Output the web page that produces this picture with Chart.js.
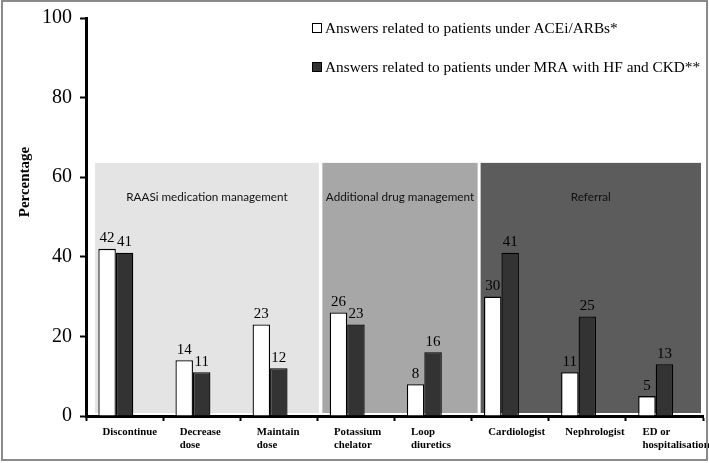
<!DOCTYPE html>
<html>
<head>
<meta charset="utf-8">
<script src="https://cdn.jsdelivr.net/npm/chart.js@4.4.1/dist/chart.umd.min.js"></script>
<style>
  html, body { margin: 0; padding: 0; background: #ffffff; }
  #wrap { position: relative; width: 709px; height: 463px; }
</style>
</head>
<body>
<div id="wrap"><canvas id="c" width="709" height="463"></canvas></div>
<script>
// ---- data ----
const categories = [
  'Discontinue',
  ['Decrease', 'dose'],
  ['Maintain', 'dose'],
  ['Potassium', 'chelator'],
  ['Loop', 'diuretics'],
  'Cardiologist',
  'Nephrologist',
  ['ED or', 'hospitalisation']
];
const seriesNames = [
  'Answers related to patients under ACEi/ARBs*',
  'Answers related to patients under MRA with HF and CKD**'
];
const aceiArbValues = [42, 14, 23, 26, 8, 30, 11, 5];
const mraValues = [41, 11, 12, 23, 16, 41, 25, 13];
const groupLabels = ['RAASi medication management', 'Additional drug management', 'Referral'];
const groupFirstIndex = [0, 3, 5];
const groupLastIndex = [2, 4, 7];
const yTicks = [0, 20, 40, 60, 80, 100];

// ---- styles ----
const SERIF = '"Liberation Serif", "Times New Roman", serif';
const SANS = 'Lato, "Noto Sans", sans-serif';
const groupFills = ['#e4e4e4', '#a7a7a7', '#5c5c5c'];
const groupInsetL = [9, 5, 9];
const groupInsetR = [1.5, 6, -2];
const GROUP_TOP_VALUE = 63.6;
const GROUP_BOTTOM_GAP = 3;

const groupsPlugin = {
  id: 'groups',
  beforeDatasetsDraw(chart) {
    const ctx = chart.ctx, x = chart.scales.x, y = chart.scales.y;
    const half = (x.getPixelForValue(1) - x.getPixelForValue(0)) / 2;
    const top = y.getPixelForValue(GROUP_TOP_VALUE);
    const bottom = y.getPixelForValue(0) - GROUP_BOTTOM_GAP;
    ctx.save();
    groupLabels.forEach((lab, g) => {
      const l = x.getPixelForValue(groupFirstIndex[g]) - half + groupInsetL[g];
      const r = x.getPixelForValue(groupLastIndex[g]) + half + groupInsetR[g];
      ctx.fillStyle = groupFills[g];
      ctx.fillRect(l, top, r - l, bottom - top);
      ctx.fillStyle = '#111';
      ctx.font = '11.7px ' + SANS;
      ctx.textAlign = 'center';
      ctx.textBaseline = 'middle';
      ctx.fillText(lab, (l + r) / 2, top + 34);
    });
    ctx.restore();
  }
};

const valueLabelsPlugin = {
  id: 'valueLabels',
  afterDatasetsDraw(chart) {
    const ctx = chart.ctx;
    ctx.save();
    ctx.font = '15px ' + SERIF;
    ctx.fillStyle = '#000';
    ctx.textAlign = 'center';
    ctx.textBaseline = 'bottom';
    [0, 1].forEach(di => {
      const meta = chart.getDatasetMeta(di);
      meta.data.forEach((bar, i) => {
        const v = chart.data.datasets[di].data[i];
        ctx.fillText(String(v), bar.x, bar.y - 3);
      });
    });
    ctx.restore();
  }
};

const legendPlugin = {
  id: 'customLegend',
  afterDraw(chart) {
    const ctx = chart.ctx;
    ctx.save();
    const rows = [28, 67];
    ctx.font = '15.3px ' + SERIF;
    ctx.textBaseline = 'middle';
    ctx.textAlign = 'left';
    [0, 1].forEach(di => {
      const ds = chart.data.datasets[di];
      const yc = rows[di];
      ctx.fillStyle = ds.backgroundColor;
      ctx.fillRect(312.5, yc - 4.5, 9, 9);
      ctx.strokeStyle = '#000';
      ctx.lineWidth = 1;
      ctx.strokeRect(312.5, yc - 4.5, 9, 9);
      ctx.fillStyle = '#000';
      ctx.fillText(ds.label, 325, yc + 1);
    });
    // y axis title
    ctx.save();
    ctx.translate(25, 182);
    ctx.rotate(-Math.PI / 2);
    ctx.font = 'bold 15px ' + SERIF;
    ctx.textAlign = 'center';
    ctx.textBaseline = 'middle';
    ctx.fillText('Percentage', 0, 0);
    ctx.restore();
    // outer frame
    ctx.strokeStyle = '#8a8a8a';
    ctx.lineWidth = 2;
    ctx.strokeRect(2, 1, 705, 459);
    ctx.restore();
  }
};

new Chart(document.getElementById('c'), {
  type: 'bar',
  data: {
    labels: categories,
    datasets: [
      { label: seriesNames[0], data: aceiArbValues, backgroundColor: '#ffffff', borderColor: '#000000', borderWidth: 1.3 },
      { label: seriesNames[1], data: mraValues, backgroundColor: '#333333', borderColor: '#000000', borderWidth: 1.3 },
      { label: '', data: [], backgroundColor: 'rgba(0,0,0,0)' }
    ]
  },
  options: {
    responsive: false,
    animation: false,
    devicePixelRatio: 1,
    layout: { padding: { top: 18, right: 6, bottom: 0, left: 0 } },
    datasets: { bar: { barPercentage: 1, categoryPercentage: 0.68 } },
    plugins: { legend: { display: false }, tooltip: { enabled: false }, title: { display: false } },
    scales: {
      x: {
        grid: { display: true, drawOnChartArea: false, offset: true, tickLength: 5, tickWidth: 2, tickColor: '#000' },
        border: { display: true, color: '#000', width: 3 },
        ticks: {
          autoSkip: false, maxRotation: 0, minRotation: 0,
          align: 'start', labelOffset: -22, padding: 5,
          color: '#000', font: { family: SERIF, size: 10.8, weight: 'bold', lineHeight: 1.2 }
        },
        afterFit(s) { s.height = 47; s.paddingLeft = 0; s.paddingRight = 0; }
      },
      y: {
        min: 0, max: 100,
        afterBuildTicks(s) { s.ticks = yTicks.map(v => ({ value: v })); },
        grid: { display: true, drawOnChartArea: false, tickLength: 6, tickWidth: 2, tickColor: '#000' },
        border: { display: true, color: '#000', width: 3 },
        ticks: { padding: 8, color: '#000', font: { family: SERIF, size: 20 } },
        afterFit(s) { s.width = 86; s.paddingTop = 0; s.paddingBottom = 0; }
      }
    }
  },
  plugins: [groupsPlugin, valueLabelsPlugin, legendPlugin]
});
</script>
</body>
</html>
